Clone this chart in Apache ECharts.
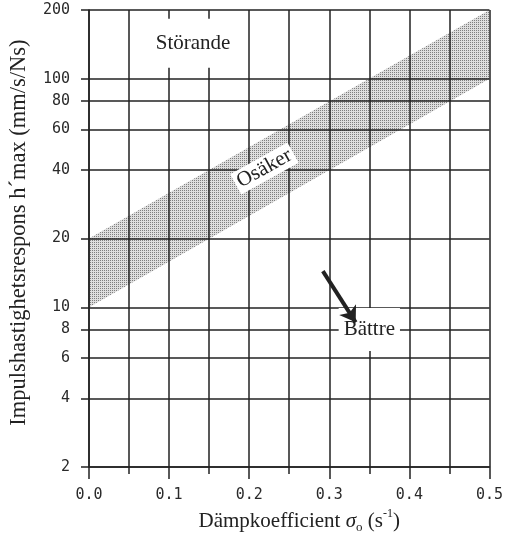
<!DOCTYPE html>
<html><head><meta charset="utf-8">
<script src="https://cdn.jsdelivr.net/npm/echarts@6/dist/echarts.min.js"></script>
<style>html,body{margin:0;padding:0;background:#fff}#c{width:506px;height:539px}</style>
</head><body><div id="c"></div>
<script>
// ---- data ----
const xTickStep = 0.1;
const xMin = 0, xMax = 0.5;
const yTicks = [2, 4, 6, 8, 10, 20, 40, 60, 80, 100, 200];
const bandX = [0, 0.5];
const bandLow = [10, 100];
const bandHigh = [20, 200];
const noteText = ['Störande', 'Osäker', 'Bättre'];
const noteX = [0.13, 0.219, 0.35];
const noteY = [143, 40.5, 8];
const arrowFrom = [0.292, 14.4];
const arrowTo = [0.333, 8.6];

// ---- styles ----
const INK = '#222';
const SERIF = '"Liberation Serif", "Times New Roman", serif';
const MONO = '"DejaVu Sans Mono", monospace';

function makePattern() {
  const c = document.createElement('canvas');
  c.width = 2; c.height = 2;
  const g = c.getContext('2d');
  g.fillStyle = '#dedede'; g.fillRect(0, 0, 2, 2);
  g.fillStyle = '#7e7e7e'; g.fillRect(0, 0, 1, 1);
  return c;
}
const pattern = makePattern();

const noteStyles = [
  { padding: [14, 10], rotate: 0 },
  { padding: [1, 3], rotate: 29 },
  { padding: [11, 5], rotate: 0 }
];

const chart = echarts.init(document.getElementById('c'), null, { renderer: 'canvas' });
const gridLine = { show: true, lineStyle: { color: INK, width: 1.5 } };
chart.setOption({
  animation: false,
  backgroundColor: '#fff',
  grid: { left: 88, right: 10, top: 10, bottom: 69 },
  xAxis: {
    type: 'value', min: xMin, max: xMax, interval: xTickStep, z: 3,
    axisLine: { show: true, lineStyle: { color: INK, width: 1.5 } },
    axisTick: { show: true, length: 12, lineStyle: { color: INK, width: 1.5 } },
    minorTick: { show: true, splitNumber: 2, length: 7, lineStyle: { color: INK, width: 1.5 } },
    splitLine: gridLine,
    minorSplitLine: gridLine,
    axisLabel: { formatter: v => v.toFixed(1), fontFamily: MONO, fontSize: 15, color: '#2a2a2a', margin: 21 },
    name: '{a|Dämpkoefficient }{i|σ}{sub|o}{a| (s}{sup|-1}{a|)}',
    nameLocation: 'middle', nameGap: 36,
    nameTextStyle: {
      padding: [0, 0, 0, 20],
      rich: {
        a: { fontFamily: SERIF, fontSize: 21, color: INK, lineHeight: 26 },
        i: { fontFamily: SERIF, fontSize: 21, fontStyle: 'italic', color: INK, lineHeight: 26 },
        sub: { fontFamily: SERIF, fontSize: 13, color: INK, verticalAlign: 'bottom', lineHeight: 26 },
        sup: { fontFamily: SERIF, fontSize: 12, color: INK, verticalAlign: 'top', lineHeight: 26 }
      }
    }
  },
  yAxis: {
    type: 'log', logBase: 10, min: 2, max: 200, z: 3,
    axisLine: { show: true, lineStyle: { color: INK, width: 1.5 } },
    axisTick: { show: true, length: 8, customValues: yTicks, lineStyle: { color: INK, width: 1.5 } },
    minorTick: { show: false },
    splitLine: gridLine,
    axisLabel: { customValues: yTicks, formatter: v => String(v), fontFamily: MONO, fontSize: 15, color: '#2a2a2a', margin: 19 },
    name: 'Impulshastighetsrespons h´max (mm/s/Ns)',
    nameLocation: 'middle', nameGap: 58,
    nameTextStyle: { fontFamily: SERIF, fontSize: 22.5, color: INK, padding: [0, 0, 0, 12] }
  },
  series: [
    {
      type: 'custom', z: 1, silent: true, clip: true,
      data: [[bandX[0], bandLow[0]]],
      renderItem: (params, api) => {
        const pts = [];
        for (let i = 0; i < bandX.length; i++) pts.push(api.coord([bandX[i], bandLow[i]]));
        for (let i = bandX.length - 1; i >= 0; i--) pts.push(api.coord([bandX[i], bandHigh[i]]));
        return { type: 'polygon', shape: { points: pts }, style: { fill: { image: pattern, repeat: 'repeat' }, stroke: null } };
      }
    },
    {
      type: 'scatter', z: 5, silent: true, symbolSize: 0,
      itemStyle: { opacity: 1 },
      data: noteText.map((t, i) => ({
        value: [noteX[i], noteY[i]],
        label: {
          show: true, position: 'inside', formatter: t,
          fontFamily: SERIF, fontSize: 21, color: INK, opacity: 1,
          backgroundColor: '#fff', padding: noteStyles[i].padding, rotate: noteStyles[i].rotate
        }
      }))
    },
    {
      type: 'lines', coordinateSystem: 'cartesian2d', z: 8, silent: true,
      symbol: ['none', 'arrow'], symbolSize: 15,
      lineStyle: { color: INK, width: 4, opacity: 1 },
      data: [{ coords: [arrowFrom, arrowTo] }]
    }
  ]
});
</script>
</body></html>
